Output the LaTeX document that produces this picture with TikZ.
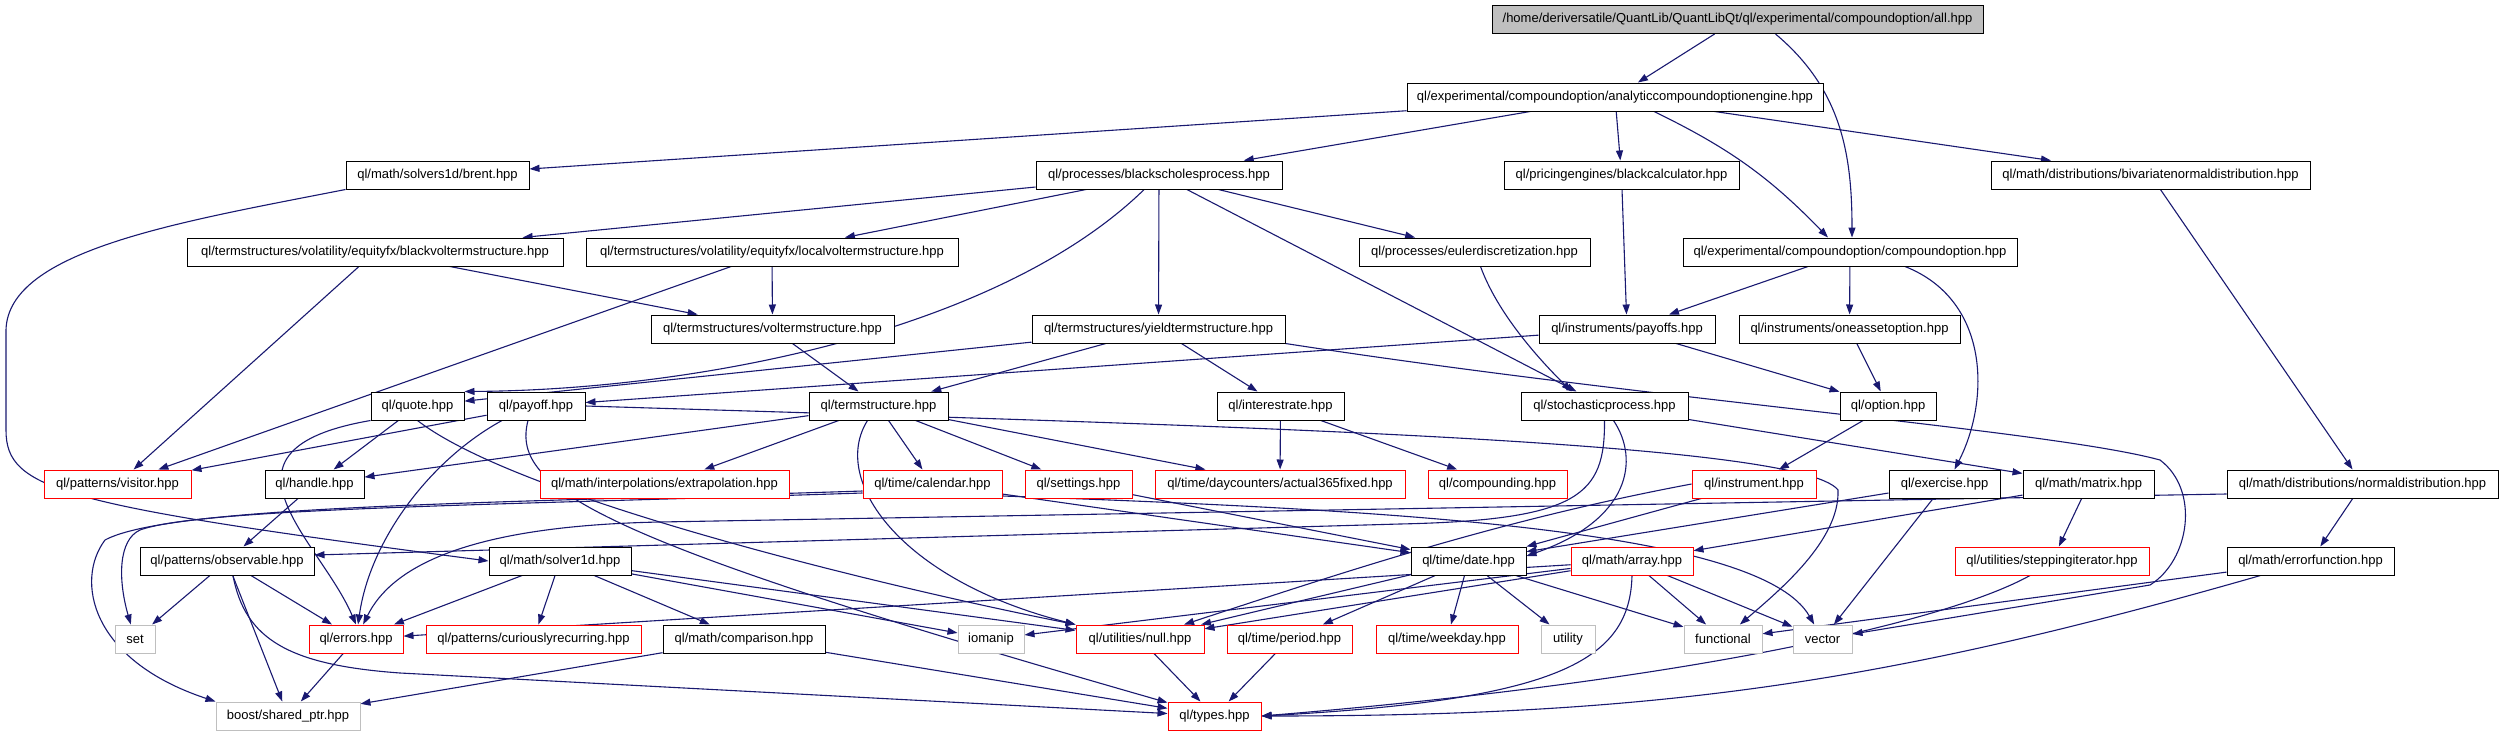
\documentclass[tikz,border=0pt]{standalone}
\usepackage{fontspec}
\setmainfont{Liberation Sans}
\usetikzlibrary{arrows.meta}
\definecolor{edgeblue}{HTML}{191970}
\definecolor{boxgray}{HTML}{BFBFBF}
\pgfdeclarelayer{edges}
\pgfsetlayers{edges,main}

\begin{document}
\begin{tikzpicture}[x=1pt,y=1pt,
    hdr/.style={draw=black, fill=white, line width=1pt, minimum height=28, inner sep=0pt,
                font=\fontsize{13}{15}\selectfont},
    trunc/.style={hdr, draw=red},
    sys/.style={hdr, draw=boxgray},
    mainfile/.style={hdr, fill=boxgray},
    dep/.style={draw=edgeblue, line width=1.1pt, -{Triangle[length=10pt,width=7pt]}}]

    \useasboundingbox (0,0) rectangle (2503,-736);

    % Top file
    \node[mainfile, minimum width=491] (allhpp) at (1737.5,-19.5) {/home/deriversatile/QuantLib/QuantLibQt/ql/experimental/compoundoption/all.hpp};
    \node[hdr, minimum width=416] (engine) at (1615,-97) {ql/experimental/compoundoption/analyticcompoundoptionengine.hpp};

    % Row 2
    \node[hdr, minimum width=183] (brent) at (437.5,-175) {ql/math/solvers1d/brent.hpp};
    \node[hdr, minimum width=246] (bsprocess) at (1159,-175) {ql/processes/blackscholesprocess.hpp};
    \node[hdr, minimum width=235] (blackcalc) at (1621.5,-175) {ql/pricingengines/blackcalculator.hpp};
    \node[hdr, minimum width=319] (bivariate) at (2150.5,-175) {ql/math/distributions/bivariatenormaldistribution.hpp};

    % Row 3
    \node[hdr, minimum width=376] (blackvol) at (375,-252) {ql/termstructures/volatility/equityfx/blackvoltermstructure.hpp};
    \node[hdr, minimum width=372] (localvol) at (772,-252) {ql/termstructures/volatility/equityfx/localvoltermstructure.hpp};
    \node[hdr, minimum width=231] (euler) at (1474.5,-252) {ql/processes/eulerdiscretization.hpp};
    \node[hdr, minimum width=334] (compound) at (1850,-252) {ql/experimental/compoundoption/compoundoption.hpp};

    % Row 4
    \node[hdr, minimum width=243] (voltermstr) at (772.5,-329) {ql/termstructures/voltermstructure.hpp};
    \node[hdr, minimum width=253] (yieldtermstr) at (1158.5,-329) {ql/termstructures/yieldtermstructure.hpp};
    \node[hdr, minimum width=176] (payoffs) at (1627,-329) {ql/instruments/payoffs.hpp};
    \node[hdr, minimum width=221] (oneasset) at (1849.5,-329) {ql/instruments/oneassetoption.hpp};

    % Row 5
    \node[hdr, minimum width=93] (quote) at (417.5,-406) {ql/quote.hpp};
    \node[hdr, minimum width=98] (payoff) at (536,-406) {ql/payoff.hpp};
    \node[hdr, minimum width=139] (termstr) at (878.5,-406) {ql/termstructure.hpp};
    \node[hdr, minimum width=127] (interestrate) at (1280.5,-406) {ql/interestrate.hpp};
    \node[hdr, minimum width=167] (stochproc) at (1604.5,-406) {ql/stochasticprocess.hpp};
    \node[hdr, minimum width=96] (option) at (1888,-406) {ql/option.hpp};

    % Row 6
    \node[trunc, minimum width=147] (visitor) at (117.5,-484) {ql/patterns/visitor.hpp};
    \node[hdr, minimum width=99] (handle) at (314.5,-484) {ql/handle.hpp};
    \node[trunc, minimum width=249] (extrapol) at (664.5,-484) {ql/math/interpolations/extrapolation.hpp};
    \node[trunc, minimum width=139] (calendar) at (932.5,-484) {ql/time/calendar.hpp};
    \node[trunc, minimum width=107] (settings) at (1078.5,-484) {ql/settings.hpp};
    \node[trunc, minimum width=250] (actual) at (1280,-484) {ql/time/daycounters/actual365fixed.hpp};
    \node[trunc, minimum width=139] (compounding) at (1497.5,-484) {ql/compounding.hpp};
    \node[trunc, minimum width=124] (instrument) at (1754,-484) {ql/instrument.hpp};
    \node[hdr, minimum width=111] (exercise) at (1944.5,-484) {ql/exercise.hpp};
    \node[hdr, minimum width=131] (matrix) at (2088.5,-484) {ql/math/matrix.hpp};
    \node[hdr, minimum width=271] (normaldist) at (2362.5,-484) {ql/math/distributions/normaldistribution.hpp};

    % Row 7
    \node[hdr, minimum width=174] (observable) at (227,-561) {ql/patterns/observable.hpp};
    \node[hdr, minimum width=142] (solver) at (560,-561) {ql/math/solver1d.hpp};
    \node[hdr, minimum width=115] (date) at (1468.5,-561) {ql/time/date.hpp};
    \node[trunc, minimum width=122] (array) at (1632,-561) {ql/math/array.hpp};
    \node[trunc, minimum width=194] (stepiter) at (2052,-561) {ql/utilities/steppingiterator.hpp};
    \node[hdr, minimum width=167] (errorfn) at (2310.5,-561) {ql/math/errorfunction.hpp};

    % Row 8
    \node[sys, minimum width=40] (set) at (135,-639) {set};
    \node[trunc, minimum width=94] (errors) at (356,-639) {ql/errors.hpp};
    \node[trunc, minimum width=215] (curious) at (533.5,-639) {ql/patterns/curiouslyrecurring.hpp};
    \node[hdr, minimum width=162] (comparison) at (744,-639) {ql/math/comparison.hpp};
    \node[sys, minimum width=66] (iomanip) at (991,-639) {iomanip};
    \node[trunc, minimum width=128] (null) at (1140,-639) {ql/utilities/null.hpp};
    \node[trunc, minimum width=125] (period) at (1289.5,-639) {ql/time/period.hpp};
    \node[trunc, minimum width=142] (weekday) at (1447,-639) {ql/time/weekday.hpp};
    \node[sys, minimum width=54] (utility) at (1568,-639) {utility};
    \node[sys, minimum width=78] (functional) at (1723,-639) {functional};
    \node[sys, minimum width=59] (vector) at (1822.5,-639) {vector};

    % Row 9
    \node[sys, minimum width=144] (sharedptr) at (288,-716) {boost/shared\_ptr.hpp};
    \node[trunc, minimum width=93] (types) at (1214.5,-716) {ql/types.hpp};

    \begin{pgfonlayer}{edges}
    % all.hpp and the engine
    \draw[dep] (allhpp) -- (engine);
    \draw[dep] ([xshift=38]allhpp.south) to[out=-40,in=90] ([xshift=2]compound.north);
    \draw[dep] (engine) -- (brent);
    \draw[dep] (engine) -- (bsprocess);
    \draw[dep] (engine) -- (blackcalc);
    \draw[dep] ([xshift=39]engine.south) to[bend left=10] ([xshift=-22]compound.north);
    \draw[dep] (engine) -- (bivariate);

    % brent goes round the left side
    \draw[dep] (brent.south west) .. controls (180,-222) and (8,-250) .. (6,-330) -- (6,-430)
        .. controls (6,-490) and (60,-505) .. (solver.west);

    % black scholes process
    \draw[dep] (bsprocess) -- (blackvol);
    \draw[dep] (bsprocess) -- (localvol);
    \draw[dep] (bsprocess) -- (euler);
    \draw[dep] (bsprocess) -- (yieldtermstr);
    \draw[dep] (bsprocess) -- ([xshift=-28]stochproc.north);
    \draw[dep] (bsprocess) .. controls (1000,-330) and (700,-390) .. (quote.north east);

    % vol term structures
    \draw[dep] (blackvol) -- (voltermstr);
    \draw[dep] (blackvol) -- (visitor);
    \draw[dep] (localvol) -- (voltermstr);
    \draw[dep] (localvol) -- (visitor);
    \draw[dep] (voltermstr) -- (termstr);
    \draw[dep] ([xshift=6]euler.south) .. controls (1500,-320) and (1550,-370) .. ([xshift=-33]stochproc.north);
    \draw[dep] (blackcalc) -- (payoffs);
    \draw[dep] (compound) -- (payoffs);
    \draw[dep] (compound) -- (oneasset);
    \draw[dep] ([xshift=55]compound.south) .. controls (1990,-300) and (1990,-400) .. ([xshift=10]exercise.north);
    \draw[dep] (bivariate) -- (normaldist);

    % yield term structure
    \draw[dep] (yieldtermstr) -- (quote);
    \draw[dep] (yieldtermstr) -- (termstr);
    \draw[dep] (yieldtermstr) -- (interestrate);
    \draw[dep] (yieldtermstr.south east) .. controls (1650,-400) and (2050,-430) .. (2160,-460)
        .. controls (2200,-490) and (2190,-560) .. (2150,-585) -- (vector);

    % payoffs and options
    \draw[dep] (payoffs) -- (payoff);
    \draw[dep] (payoffs) -- (option);
    \draw[dep] (oneasset) -- (option);
    \draw[dep] (option) -- (instrument);

    % quote and payoff
    \draw[dep] (quote) -- (handle);
    \draw[dep] (quote.south west) .. controls (200,-450) and (320,-540) .. (errors.north);
    \draw[dep] (quote.south) .. controls (520,-500) and (900,-590) .. (null.north west);
    \draw[dep] (payoff) -- (visitor);
    \draw[dep] ([xshift=-34]payoff.south) .. controls (430,-460) and (370,-540) .. (errors);
    \draw[dep] ([xshift=-8]payoff.south) .. controls (510,-490) and (600,-540) .. (types);
    \draw[dep] (payoff.east) .. controls (1200,-425) and (1800,-440) .. (1838,-490)
        .. controls (1840,-540) and (1780,-590) .. (functional);

    % term structure
    \draw[dep] (termstr) -- (handle);
    \draw[dep] (termstr) -- (extrapol);
    \draw[dep] (termstr) -- (calendar);
    \draw[dep] (termstr) -- (settings);
    \draw[dep] (termstr) -- (actual);
    \draw[dep] ([xshift=-11]termstr.south) .. controls (830,-480) and (900,-580) .. (null.north west);
    \draw[dep] (interestrate) -- (actual);
    \draw[dep] (interestrate) -- (compounding);

    % stochastic process
    \draw[dep] (stochproc.south) .. controls (1605,-495) and (1580,-520) .. (1400,-524) -- ([yshift=6]observable.east);
    \draw[dep] ([xshift=9]stochproc.south) .. controls (1640,-460) and (1630,-520) .. ([yshift=5]date.east);
    \draw[dep] (stochproc) -- (matrix);

    % calendar, settings, instrument, exercise
    \draw[dep] (handle) -- (observable);
    \draw[dep] ([yshift=-9]calendar.west) .. controls (500,-505) and (200,-508) .. (140,-530)
        .. controls (118,-540) and (118,-580) .. (set);
    \draw[dep] ([yshift=-7]calendar.west) .. controls (500,-503) and (170,-505) .. (105,-540)
        .. controls (75,-580) and (90,-660) .. (sharedptr.north west);
    \draw[dep] (calendar) -- (date);
    \draw[dep] ([yshift=-12]calendar.east) .. controls (1400,-510) and (1760,-530) .. (vector);
    \draw[dep] (settings) -- (date);
    \draw[dep] (instrument.west) .. controls (1500,-520) and (1350,-570) .. (null);
    \draw[dep] (instrument) -- (date.north east);
    \draw[dep] (exercise) -- (date);
    \draw[dep] (exercise) -- (vector);
    \draw[dep] (matrix) -- (array);
    \draw[dep] (matrix) -- (stepiter);
    \draw[dep] (normaldist) -- (errorfn);
    \draw[dep] ([yshift=-10]normaldist.west) -- (660,-522) .. controls (460,-526) and (390,-570) .. (errors);

    % observable, solver
    \draw[dep] (observable) -- (set);
    \draw[dep] (observable) -- (errors);
    \draw[dep] (observable) -- (sharedptr);
    \draw[dep] ([xshift=6]observable.south) .. controls (245,-640) and (290,-665) .. (400,-673) -- (types);
    \draw[dep] (solver) -- (errors);
    \draw[dep] (solver) -- (curious);
    \draw[dep] (solver) -- (comparison);
    \draw[dep] (solver) -- (iomanip);
    \draw[dep] (solver) -- (null);

    % date and array
    \draw[dep] (date) -- (null);
    \draw[dep] (date) -- (period);
    \draw[dep] (date) -- (weekday);
    \draw[dep] (date) -- (utility);
    \draw[dep] (date) -- (functional);
    \draw[dep] (array) -- (errors);
    \draw[dep] (array) -- (iomanip);
    \draw[dep] (array) -- (null);
    \draw[dep] (array) -- (functional);
    \draw[dep] (array) -- (vector);
    \draw[dep] (array.south) .. controls (1630,-660) and (1560,-700) .. (types.east);

    % bottom rows
    \draw[dep] (errors) -- (sharedptr);
    \draw[dep] (comparison) -- (sharedptr);
    \draw[dep] (comparison) -- (types);
    \draw[dep] (null) -- (types);
    \draw[dep] (period) -- (types);
    \draw[dep] ([xshift=-22]stepiter.south) .. controls (1950,-620) and (1700,-680) .. (types.east);
    \draw[dep] ([xshift=-50]errorfn.south) to[bend left=8] (types.east);
    \draw[dep] (errorfn) -- (functional);
    \end{pgfonlayer}
\end{tikzpicture}
\end{document}
